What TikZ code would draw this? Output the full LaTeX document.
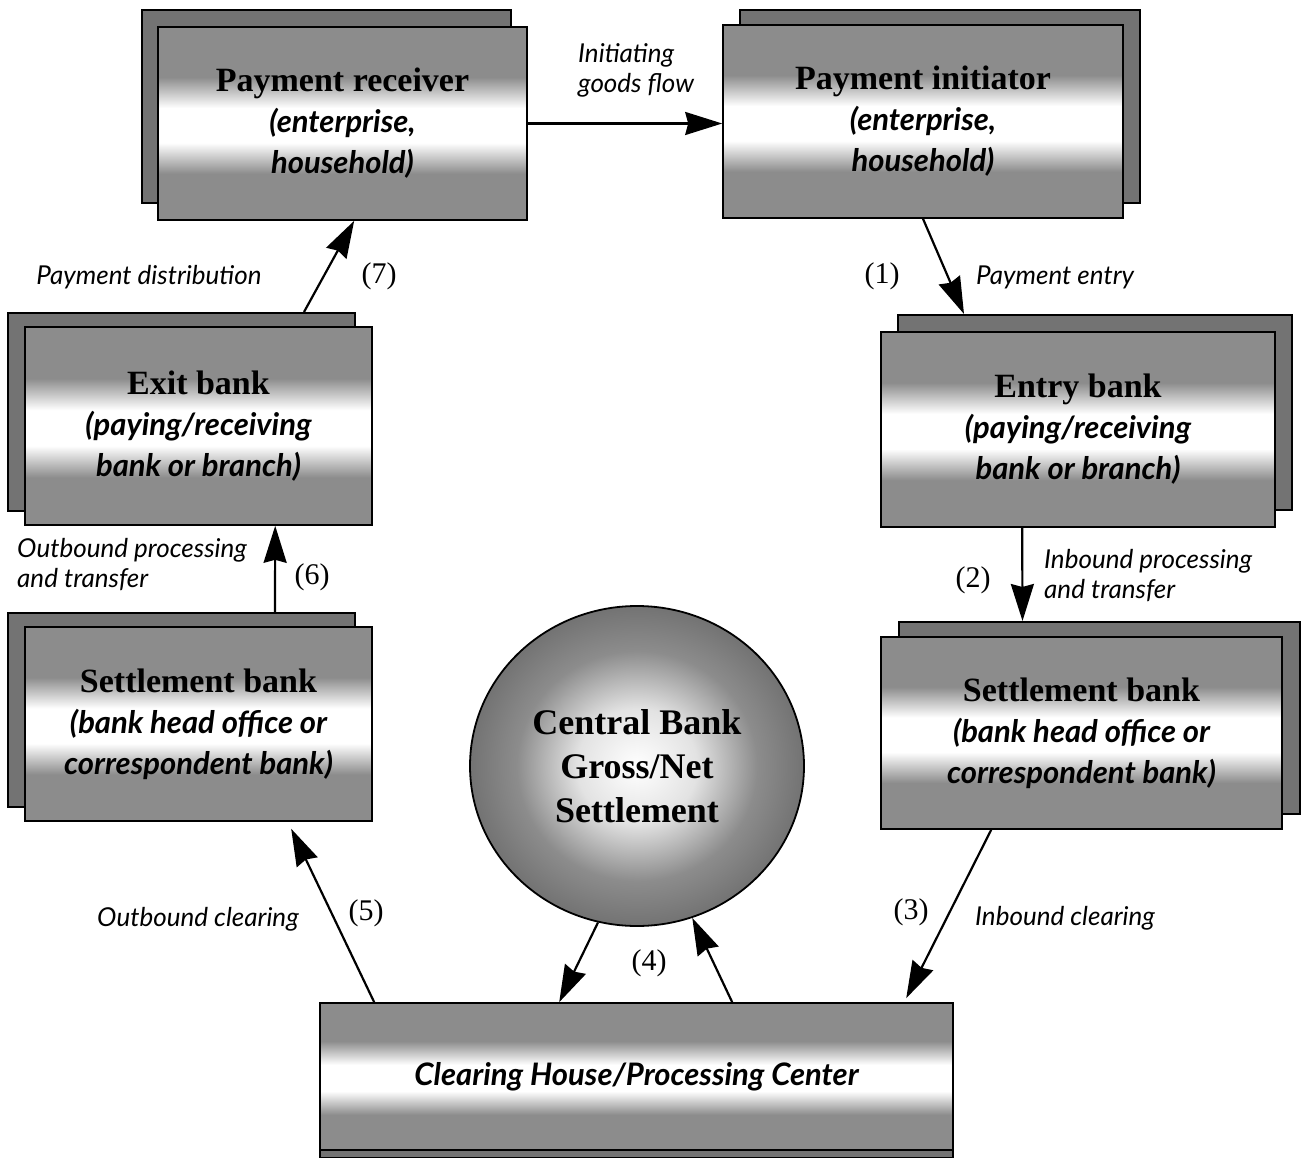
\documentclass[tikz,border=0pt]{standalone}
\usepackage{fontspec}
\setmainfont{Liberation Serif}
\newfontfamily\lato{Lato}
\usetikzlibrary{arrows.meta,calc,shapes.geometric}
\definecolor{sg}{gray}{0.55}
\definecolor{sgd}{gray}{0.45}
\pgfdeclareverticalshading{bandshade}{100bp}{color(0bp)=(sg); color(37bp)=(sg); color(45bp)=(white); color(54bp)=(white); color(62bp)=(sg); color(100bp)=(sg)}
\pgfdeclareradialshading{cbshade}{\pgfpoint{0bp}{0bp}}{color(0bp)=(white); color(9bp)=(white!75!sg); color(18bp)=(sg); color(25bp)=(sgd); color(50bp)=(sgd)}
\newcommand\boxital[1]{{\fontsize{31}{41}\selectfont\lato\bfseries\itshape #1}}
\begin{document}
\begin{tikzpicture}[x=1pt,y=-1pt,
  backbox/.style={draw=black, line width=2pt, fill=sgd, inner sep=0pt},
  frontbox/.style={draw=black, line width=1.6pt, shade, shading=bandshade, inner sep=0pt, align=center, font=\fontsize{34}{41}\selectfont\bfseries},
  lbl/.style={font=\fontsize{26}{30}\selectfont\lato\itshape, align=left, inner sep=0pt},
  num/.style={font=\fontsize{30}{34}\selectfont, inner sep=0pt},
  arr/.style={line width=2.2pt, -{Stealth[length=37pt,width=23pt,inset=3pt]}}]
\useasboundingbox (0,0) rectangle (1309,1158);

% back boxes
\node[backbox, minimum width=369pt, minimum height=193pt] (prb) at (326.5,106.5) {};
\node[backbox, minimum width=400pt, minimum height=193pt] (pib) at (940,106.5) {};
\node[backbox, minimum width=347pt, minimum height=198pt] (exb) at (181.5,412) {};
\node[backbox, minimum width=394pt, minimum height=195pt] (enb) at (1095,412.5) {};
\node[backbox, minimum width=347pt, minimum height=194pt] (slb) at (181.5,710) {};
\node[backbox, minimum width=401pt, minimum height=192pt] (srb) at (1099,718) {};
\node[backbox, minimum width=633pt, minimum height=147pt] (chb) at (636.5,1084.5) {};

% front boxes
\node[frontbox, minimum width=369pt, minimum height=193pt] (pr) at (342.5,123.5)
  {Payment receiver\\\boxital{(enterprise,}\\\boxital{household)}};
\node[frontbox, minimum width=400pt, minimum height=193pt] (pi) at (923,121.5)
  {Payment initiator\\\boxital{(enterprise,}\\\boxital{household)}};
\node[frontbox, minimum width=347pt, minimum height=198pt] (ex) at (198.5,426)
  {Exit bank\\\boxital{(paying/receiving}\\\boxital{bank or branch)}};
\node[frontbox, minimum width=394pt, minimum height=195pt] (en) at (1078,429.5)
  {Entry bank\\\boxital{(paying/receiving}\\\boxital{bank or branch)}};
\node[frontbox, minimum width=347pt, minimum height=194pt] (sl) at (198.5,724)
  {Settlement bank\\\boxital{(bank head office or}\\\boxital{correspondent bank)}};
\node[frontbox, minimum width=401pt, minimum height=192pt] (sr) at (1081.5,733)
  {Settlement bank\\\boxital{(bank head office or}\\\boxital{correspondent bank)}};
\node[frontbox, minimum width=633pt, minimum height=147pt] (ch) at (636.5,1076.5)
  {\boxital{Clearing House/Processing Center}};

% central bank
\node[ellipse, draw=black, line width=1.8pt, shade, shading=cbshade, inner sep=0pt,
  minimum width=334pt, minimum height=320pt, align=center,
  font=\fontsize{36}{44}\selectfont\bfseries] (cb) at (637,766)
  {Central Bank\\Gross/Net\\Settlement};

% connectors
\draw[arr] (pr.east) -- (pr.east -| pi.west);
\draw[arr] (pi.south) -- ([xshift=67pt]enb.north west);
\draw[arr] ([xshift=142pt]en.south west) -- ([xshift=125pt]srb.north west);
\draw[arr] ([xshift=111pt]sr.south west) -- ([xshift=587pt,yshift=4pt]ch.north west);
\draw[arr] (cb.256) -- ([xshift=240pt]ch.north west);
\draw[arr] ([xshift=413pt]ch.north west) -- (cb.290);
\draw[arr] ([xshift=55pt]ch.north west) -- ([xshift=267pt,yshift=-7pt]sl.south west);
\draw[arr] ([xshift=268pt]slb.north west) -- ([xshift=251pt]ex.south west);
\draw[arr] ([xshift=297pt]exb.north west) -- ([xshift=197pt]pr.south west);

% labels
\node[lbl, anchor=west] (lgoods) at (578,70) {Initiating\\goods flow};
\node[num] (n1) at (882,276) {(1)};
\node[lbl, anchor=west] (lentry) at (976,277) {Payment entry};
\node[lbl] (ldist) at (149,277) {Payment distribution};
\node[num] (n7) at (379,276) {(7)};
\node[num] (n2) at (973,580) {(2)};
\node[lbl, anchor=west] (linproc) at (1044,576) {Inbound processing\\and transfer};
\node[lbl, anchor=west] (loutproc) at (17,565) {Outbound processing\\and transfer};
\node[num] (n6) at (312,577) {(6)};
\node[num] (n5) at (366,913) {(5)};
\node[lbl] (loutclr) at (198,919) {Outbound clearing};
\node[num] (n3) at (911,912) {(3)};
\node[lbl, anchor=west] (linclr) at (975,918) {Inbound clearing};
\node[num] (n4) at (649,963) {(4)};
\end{tikzpicture}
\end{document}
